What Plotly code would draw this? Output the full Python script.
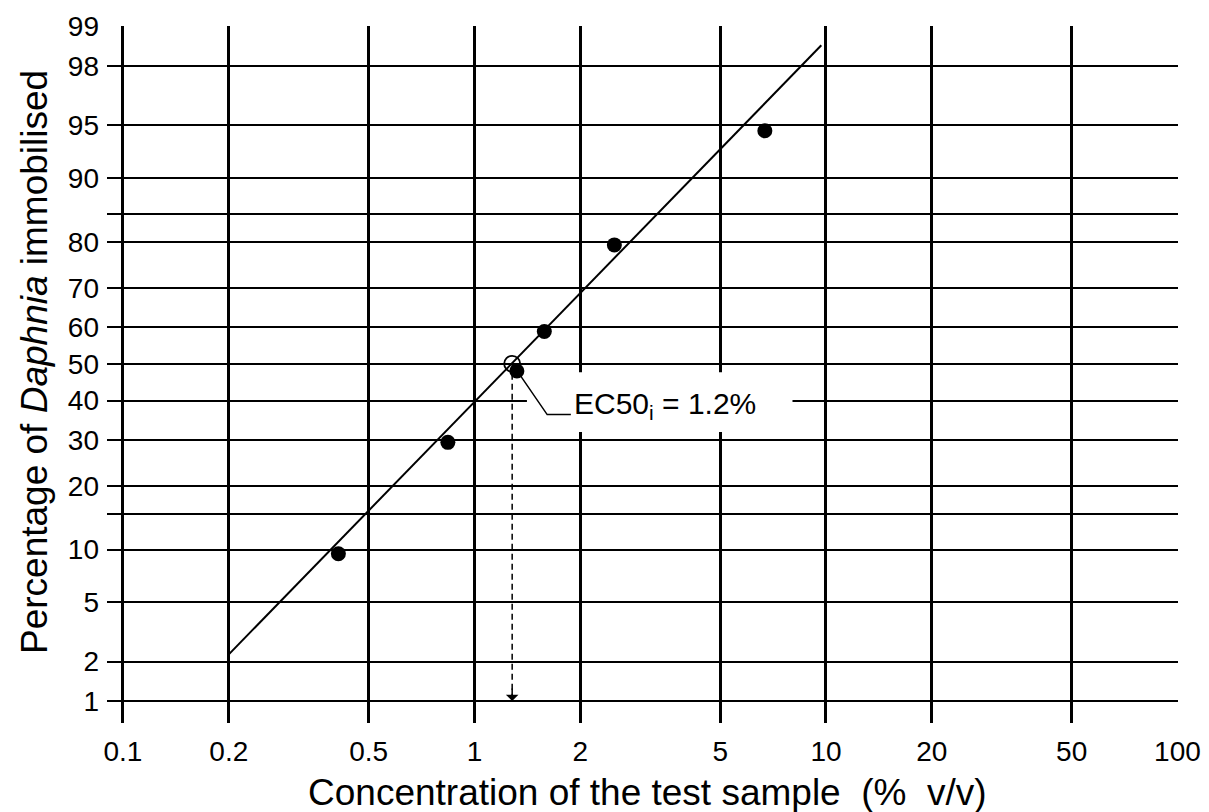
import math
from statistics import NormalDist
import plotly.graph_objects as go

# ---------------- data ----------------
x_tick_vals = [0.1, 0.2, 0.5, 1, 2, 5, 10, 20, 50, 100]
x_tick_text = ["0.1", "0.2", "0.5", "1", "2", "5", "10", "20", "50", "100"]
y_tick_pct = [1, 2, 5, 10, 20, 30, 40, 50, 60, 70, 80, 90, 95, 98, 99]
y_tick_text = ["1", "2", "5", "10", "20", "30", "40", "50", "60", "70", "80", "90", "95", "98", "99"]
y_extra_grid_pct = [15, 85]

conc_obs = [0.41, 0.84, 1.58, 2.5, 6.7, 1.32]          # % v/v
immob_obs = [9.5, 29.4, 58.8, 79.4, 94.6, 48.0]        # % immobilised

fit_conc = [0.2, 9.7]
fit_immob = [2.25, 98.6]

ec50_conc = 1.28
ec50_pct = 50
ec50_label = "EC50<sub>i</sub> = 1.2%"

leader_conc = [1.33, 1.61, 1.88]
leader_pct = [47.7, 36.3, 36.3]

FONT = "Liberation Sans, Arial, Helvetica, sans-serif"


def probit(p):
    return NormalDist().inv_cdf(p / 100.0)


fig = go.Figure()

# white patch behind the label (hides gridlines there)
fig.add_shape(type="rect", xref="x", yref="y", layer="between",
              x0=1.41, x1=8.03,
              y0=probit(31.9), y1=probit(47.7),
              fillcolor="white", line=dict(width=0))

# fitted line
fig.add_trace(go.Scatter(x=fit_conc, y=[probit(v) for v in fit_immob], mode="lines",
                         line=dict(color="black", width=2), hoverinfo="skip", showlegend=False))

# dashed drop line from EC50 to the axis
fig.add_trace(go.Scatter(x=[ec50_conc, ec50_conc], y=[probit(ec50_pct), probit(1)], mode="lines",
                         line=dict(color="black", width=1.5, dash="6px,4px"),
                         hoverinfo="skip", showlegend=False))

# EC50 open circle
fig.add_trace(go.Scatter(x=[ec50_conc], y=[probit(ec50_pct)], mode="markers",
                         marker=dict(symbol="circle-open", size=16, color="black", line=dict(width=1.8)),
                         hoverinfo="skip", showlegend=False))

# observed points
fig.add_trace(go.Scatter(x=conc_obs, y=[probit(v) for v in immob_obs], mode="markers",
                         marker=dict(symbol="circle", size=15, color="black"),
                         showlegend=False))

# leader line to label
fig.add_trace(go.Scatter(x=leader_conc, y=[probit(v) for v in leader_pct], mode="lines",
                         line=dict(color="black", width=1.5), hoverinfo="skip", showlegend=False))

# label
fig.add_annotation(x=math.log10(1.89), y=probit(38.6), xref="x", yref="y",
                   text=ec50_label, showarrow=False, xanchor="left", yanchor="middle",
                   font=dict(family=FONT, size=30, color="black"))

# arrow head at the bottom of the drop line
fig.add_annotation(x=math.log10(ec50_conc), y=probit(1), xref="x", yref="y",
                   text="", showarrow=True, ax=0, ay=-14, axref="pixel", ayref="pixel",
                   arrowhead=1, arrowsize=1.4, arrowwidth=1.5, arrowcolor="black")

# axis titles
fig.add_annotation(x=0.505, y=-0.100, xref="paper", yref="paper",
                   text="Concentration of the test sample\u00a0\u00a0(%\u00a0\u00a0v/v)",
                   showarrow=False, xanchor="center", yanchor="middle",
                   font=dict(family=FONT, size=37, color="black"))
fig.add_annotation(x=-0.0672, y=0.518, xref="paper", yref="paper",
                   text="Percentage of <i>Daphnia</i> immobilised", textangle=-90,
                   showarrow=False, xanchor="center", yanchor="middle",
                   font=dict(family=FONT, size=37, color="black"))

fig.update_xaxes(type="log", range=[-1.0455, 2.0015],
                 tickmode="array", tickvals=x_tick_vals, ticktext=x_tick_text,
                 showgrid=True, gridcolor="black", gridwidth=2.5,
                 showline=False, zeroline=False, ticks="", ticklabelstandoff=9,
                 tickfont=dict(family=FONT, size=28, color="black"))
fig.update_yaxes(range=[-2.478, probit(99) + 0.004],
                 tickmode="array", tickvals=[probit(p) for p in y_tick_pct], ticktext=y_tick_text,
                 showgrid=True, gridcolor="black", gridwidth=2.2,
                 minor=dict(tickmode="array", tickvals=[probit(p) for p in y_extra_grid_pct],
                            showgrid=True, gridcolor="black", gridwidth=2, ticks=""),
                 showline=False, zeroline=False, ticks="", ticklabelstandoff=7,
                 tickfont=dict(family=FONT, size=28, color="black"))

# the page body adds an 8 px margin, so the figure is 8 px smaller and margins shifted
fig.update_layout(width=1201, height=804,
                  margin=dict(l=99, r=31, t=18, b=89, autoexpand=False),
                  paper_bgcolor="white", plot_bgcolor="white",
                  font=dict(family=FONT, color="black"),
                  showlegend=False)

fig.write_html("out.html")
